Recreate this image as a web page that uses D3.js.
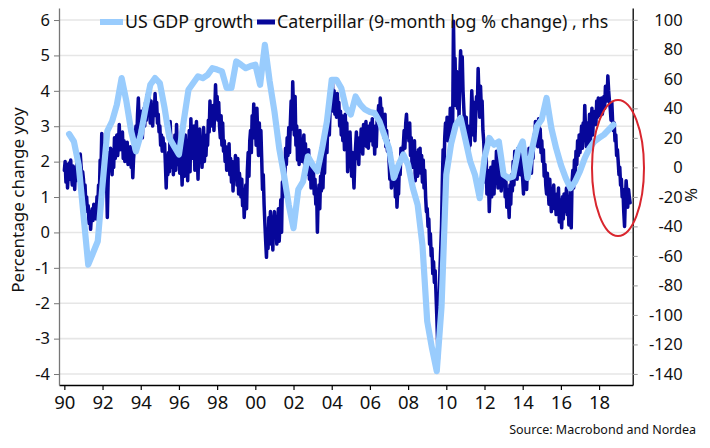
<!DOCTYPE html>
<html><head><meta charset="utf-8">
<script src="https://cdn.jsdelivr.net/npm/d3@7"></script>
<style>
html,body{margin:0;padding:0;background:#fff;}
svg{display:block;font-family:"Noto Sans","Open Sans",sans-serif;}
</style></head>
<body><svg id="chart" width="710" height="448"></svg>
<script>
// US GDP growth, % y/y, quarterly from 1990Q1 (plotted at quarter end)
const gdpStartYear = 1990;
const gdpGrowth = [
 2.78,2.57,1.91,0.5,  -0.91,-0.58,-0.25,1.35,  2.86,3.14,3.61,4.36,  3.7,2.86,2.29,2.76,
 3.51,4.17,4.36,4.22, 3.51,2.67,2.43,2.2,  3.14,4.03,4.22,4.41,  4.36,4.45,4.64,4.6,
 4.55,4.08,4.08,4.83, 4.74,4.64,4.7,4.74,  4.17,5.3,4.27,3.42,  2.38,1.63,0.78,0.12,
 1.21,1.44,2.15,1.91, 1.73,2.38,3.14,4.31,  4.31,4.08,3.51,3.33,  3.84,3.61,3.47,3.4,
 3.37,3.14,2.76,2.38, 1.54,1.91,2.2,1.91,  1.25,0.78,-0.35,-2.51,  -3.27,-3.92,-2.1,1.63,
 2.5,3.04,3.23,2.62,  2.01,1.63,0.97,2.1,  2.67,2.48,2.57,1.63,  1.54,1.58,2.29,2.57,
 1.54,2.38,3.0,3.2,  3.8,2.95,2.38,1.91,  1.54,1.25,1.44,1.73,  2.1,2.38,2.57,2.67,
 2.76,2.9,3.04
];
// Caterpillar, 9-month log % change (rhs), semi-monthly from Jan 1990
const catStartYear = 1990;
const catPerYear = 24;
const caterpillar = [
 -2,4,-10,2,-14,-4, 3,-8,5,-6,-12,1, -3,-15,0,-9,4,-7, 8,-2,9,1,-6,-3,
 -8,-18,-12,-25,-20,-30, -26,-38,-30,-42,-33,-28, -36,-25,-33,-27,-35,-20, -26,-12,-18,5,-3,23,
 8,-4,16,2,12,-6, -34,-10,10,-2,13,3, -5,12,0,20,6,18, 22,8,16,29,12,20,
 12,24,6,18,4,15, 8,17,2,12,5,14, 0,10,-7,6,13,20, 28,18,36,47,30,38,
 25,38,20,33,40,28, 44,32,49,36,52,40, 30,45,34,28,42,35, 50,38,44,30,36,24,
 28,15,22,11,20,12, 16,2,-14,8,-5,10, -3,31,12,0,18,-5, 8,22,-2,29,10,2,
 15,-4,12,3,-12,8, 18,-6,22,5,12,-9, 10,25,-3,33,14,20, 6,28,-2,18,31,10,
 -8,16,26,5,20,0, 12,27,4,18,8,22, 15,32,24,45,28,36, 30,42,25,38,56,40,
 48,32,44,28,20,35, 15,30,11,18,4,14, -2,12,2,16,-5,6, -10,4,-16,2,-8,8,
 2,-12,6,-18,-4,-10, -20,-8,-26,-15,-34,-22, -12,-28,-2,10,-6,18, 25,10,35,20,43,28,
 32,15,40,22,8,30, 12,25,6,-15,-5,-25, -38,-50,-61,-42,-55,-34, -48,-30,-52,-40,-56,-36,
 -30,-45,-35,-52,-40,-28, -50,-38,-22,-44,-10,-20, 5,-12,13,2,20,8, 27,10,30,45,26,58,
 38,22,48,15,28,5, 20,2,25,10,18,4, 14,22,2,16,-5,10, 0,12,-8,6,-14,3,
 -10,-2,-18,-8,-25,-15, -44,-20,-12,-28,-6,-16, 2,-14,8,-4,14,20, 10,28,34,22,40,50,
 42,57,38,52,36,48, 34,50,40,44,28,38, 22,35,18,30,12,36, 20,30,-3,15,5,24,
 8,-6,10,-2,-14,4, 14,24,6,18,2,20, 12,26,18,9,29,15, 22,31,14,25,13,28,
 18,30,20,33,15,26, 9,28,14,31,35,42, 30,47,36,40,29,34, 20,36,14,25,11,18,
 5,-8,10,-14,2,-6, -12,0,-20,-8,-27,-15, -18,2,-5,13,4,10, 15,25,13,30,36,22,
 28,18,30,8,20,0, 14,2,18,-9,10,4, -6,12,0,13,-4,8, -10,5,-14,-2,-20,-30,
 -28,-40,-35,-52,-45,-60, -55,-72,-64,-78,-70,-85, -100,-118,-130,-95,-70,-55, -40,-10,12,-5,20,30,
 22,34,18,30,20,40, 13,35,28,99,60,74, 42,65,40,55,34,62, 79,63,75,52,40,30,
 18,34,20,28,11,25, 15,30,52,38,22,44, 18,36,48,40,67,50, 34,55,40,45,25,18,
 5,-10,13,-18,-2,-8, -30,-15,0,-20,-6,4, -18,2,-10,11,-4,-14, 6,-8,9,-16,2,-6,
 -12,-5,-20,-10,-27,-15, -22,-34,-12,-25,-5,-16, 4,-12,11,-2,8,-8, 13,0,6,-5,10,2,
 -8,-18,0,-12,4,-15, 5,-7,13,0,8,-4, 12,6,22,15,31,20, 28,14,33,18,26,10,
 18,4,12,-6,2,-12, -18,-4,-14,-25,-8,-20, -30,-15,-24,-12,-28,-20, -32,-18,-26,-14,-37,-22,
 -28,-41,-20,-35,-18,-30, -24,-14,-32,-20,-39,-26, -16,-41,-10,-2,-14,5, -6,11,2,18,8,22,
 10,18,28,13,30,20, 42,25,14,30,11,22, 36,18,28,40,22,34, 30,38,29,45,34,47,
 38,44,35,47,36,40, 48,40,55,50,45,62, 52,45,40,32,44,31, 25,30,18,22,8,12,
 4,-5,0,-12,-8,-20, -15,-30,-40,-22,-9,-18, -27,-15,-20,-24
];
const xTickYears = [1990,1992,1994,1996,1998,2000,2002,2004,2006,2008,2010,2012,2014,2016,2018];
const leftTicks = [-4,-3,-2,-1,0,1,2,3,4,5,6];
const rightTicks = [-140,-120,-100,-80,-60,-40,-20,0,20,40,60,80,100];
const legendLabels = ["US GDP growth", "Caterpillar (9-month log % change) , rhs"];
const leftTitle = "Percentage change yoy";
const rightTitle = "%";
const sourceText = "Source: Macrobond and Nordea";

const colGDP = "#99ccfd", colCat = "#07079a";
const L = 59, R = 632.7, T = 8, B = 385;

const svg = d3.select("#chart");
const x = d3.scaleLinear().domain([1989.72, 2019.76]).range([L, R]);
const yL = d3.scaleLinear().domain([-4.31, 6.34]).range([B, T]);
const yR = d3.scaleLinear().domain([-147.5, 108]).range([B, T]);

// gridlines
svg.append("g").selectAll("line").data(leftTicks).join("line")
  .attr("x1", L).attr("x2", R).attr("y1", d => yL(d)).attr("y2", d => yL(d))
  .attr("stroke", "#e6e6e6").attr("stroke-width", 1.6);

const gdpData = gdpGrowth.map((v, i) => ({t: gdpStartYear + (i + 1) * 0.25, v}));
const catData = caterpillar.map((v, i) => ({t: catStartYear + i / catPerYear, v}));

svg.append("path").datum(catData)
  .attr("fill", "none").attr("stroke", colCat).attr("stroke-width", 3.5)
  .attr("stroke-linejoin", "round").attr("stroke-linecap", "round")
  .attr("d", d3.line().x(d => x(d.t)).y(d => yR(d.v)));

svg.append("path").datum(gdpData)
  .attr("fill", "none").attr("stroke", colGDP).attr("stroke-width", 6.2)
  .attr("stroke-linejoin", "round").attr("stroke-linecap", "round")
  .attr("d", d3.line().x(d => x(d.t)).y(d => yL(d.v)));

// axes
const fmtYear = d => String(d % 100).padStart(2, "0");
const gx = svg.append("g").attr("transform", `translate(0,${B})`)
  .call(d3.axisBottom(x).tickValues(xTickYears).tickFormat(fmtYear).tickSize(5).tickSizeOuter(0).tickPadding(6));
gx.select(".domain").attr("stroke", "#000").attr("stroke-width", 1.3);
gx.selectAll(".tick line").attr("stroke", "#000").attr("stroke-width", 1.2);
gx.selectAll(".tick text").attr("font-size", 18.5).attr("fill", "#111").attr("font-family", "Noto Sans");

const gl = svg.append("g").attr("transform", `translate(${L},0)`)
  .call(d3.axisLeft(yL).tickValues(leftTicks).tickFormat(d => d < 0 ? "-" + Math.abs(d) : d).tickSize(5).tickSizeOuter(0).tickPadding(4));
gl.select(".domain").attr("stroke", "#777").attr("stroke-width", 1.3);
gl.selectAll(".tick line").attr("stroke", "#777");
gl.selectAll(".tick text").attr("font-size", 16.5).attr("fill", "#111").attr("font-family", "Noto Sans");

const gr = svg.append("g").attr("transform", `translate(${R},0)`)
  .call(d3.axisRight(yR).tickValues(rightTicks).tickFormat(d => d < 0 ? "-" + Math.abs(d) : d).tickSize(5).tickSizeOuter(0).tickPadding(45));
gr.select(".domain").attr("stroke", "#000").attr("stroke-width", 1.3);
gr.selectAll(".tick line").attr("stroke", "#999");
gr.selectAll(".tick text").attr("font-size", 16.5).attr("fill", "#111").attr("text-anchor", "end").attr("font-family", "Noto Sans");

// axis titles
svg.append("text").attr("transform", "translate(24,200) rotate(-90)")
  .attr("text-anchor", "middle").attr("font-size", 17).attr("fill", "#111").text(leftTitle);
svg.append("text").attr("transform", "translate(697,195) rotate(-90)")
  .attr("text-anchor", "middle").attr("font-size", 17).attr("fill", "#111").text(rightTitle);

// legend
const lg = svg.append("g");
lg.append("line").attr("x1", 100).attr("x2", 123).attr("y1", 22).attr("y2", 22).attr("stroke", colGDP).attr("stroke-width", 6);
lg.append("text").attr("x", 125).attr("y", 28).attr("font-size", 17.8).attr("fill", "#111").text(legendLabels[0]);
lg.append("line").attr("x1", 257).attr("x2", 275).attr("y1", 22).attr("y2", 22).attr("stroke", colCat).attr("stroke-width", 5);
lg.append("text").attr("x", 277).attr("y", 28).attr("font-size", 17.8).attr("fill", "#111").text(legendLabels[1]);

// annotation ellipse
svg.append("ellipse").attr("cx", 618).attr("cy", 168).attr("rx", 26).attr("ry", 68)
  .attr("fill", "none").attr("stroke", "#d9262e").attr("stroke-width", 2);

// source
svg.append("text").attr("x", 696).attr("y", 434).attr("text-anchor", "end")
  .attr("font-size", 12.5).attr("fill", "#111").text(sourceText);
</script></body></html>
